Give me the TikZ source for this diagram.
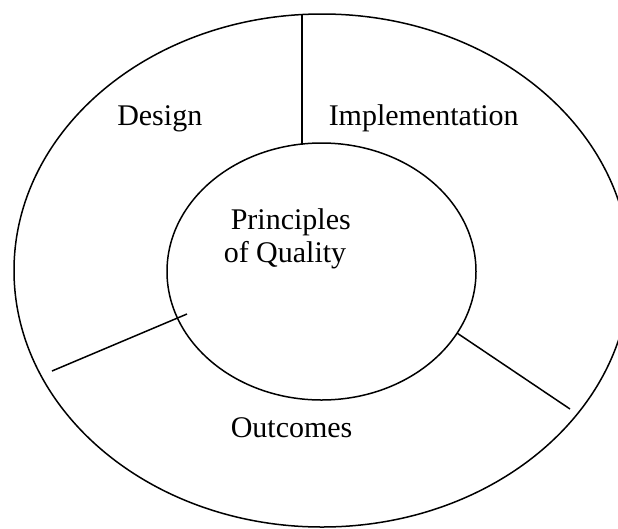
\documentclass[tikz,border=0pt]{standalone}
\usepackage{fontspec}
\setmainfont{Liberation Serif}
\begin{document}
\begin{tikzpicture}[x=1pt,y=-1pt,line width=1.5pt,
  every node/.style={font=\fontsize{30}{33}\selectfont,inner sep=0pt}]
\useasboundingbox (0,0) rectangle (618,528);
\clip (0,0) rectangle (618,528);
\draw (322,270.5) ellipse [x radius=308, y radius=256.5];
\draw (321.5,271.5) ellipse [x radius=154.5, y radius=128.5];
\draw (302,14) -- (302,145);
\draw (52,371) -- (187,314);
\draw (457,333) -- (570,409);
\node[anchor=base east] (design) at (203,125) {Design};
\node[anchor=base west] (impl) at (328,125) {Implementation};
\node[anchor=base west] (prin) at (230,229) {Principles};
\node[anchor=base west] (qual) at (223,262) {of Quality};
\node[anchor=base west] (outc) at (230,437) {Outcomes};
\end{tikzpicture}
\end{document}
